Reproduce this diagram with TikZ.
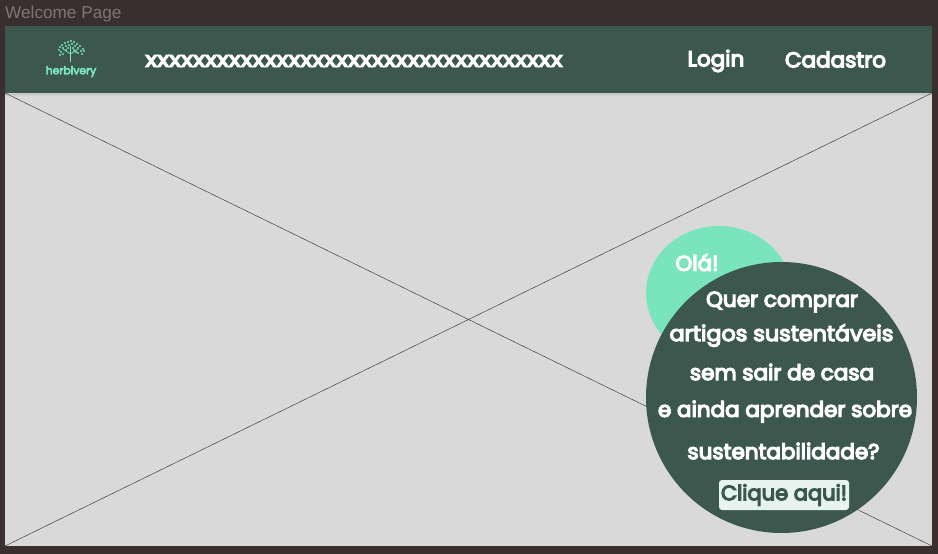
\documentclass[tikz,border=0pt]{standalone}
\usepackage{fontspec}
\setmainfont{Poppins}[RawFeature={embolden=5.5}]
\newfontfamily\labelfont{Liberation Sans}
\definecolor{frameback}{HTML}{3A2F2E}
\definecolor{headgreen}{HTML}{3C574D}
\definecolor{bodygrey}{HTML}{D9D9D9}
\definecolor{mintgreen}{HTML}{7AE4BC}
\definecolor{pagelabel}{HTML}{7D7675}
\definecolor{btnfill}{HTML}{E6F3EE}
\tikzset{
  headtext/.style={text=white, font=\fontsize{21.5pt}{24pt}\selectfont, inner sep=0pt},
  bubbletext/.style={text=white, font=\fontsize{21.5pt}{24pt}\selectfont, inner sep=0pt},
  leafdot/.style={fill=mintgreen, draw=none}
}
\begin{document}
\begin{tikzpicture}[x=1pt,y=-1pt]
\useasboundingbox (0,0) rectangle (938,554);
\fill[frameback] (0,0) rectangle (938,554);
\node[text=pagelabel, font=\labelfont\fontsize{17.2pt}{19pt}\selectfont, inner sep=0pt, anchor=west] (pagename) at (5,14.5) {Welcome Page};
% header and body
\filldraw [fill=bodygrey, draw=none] (5,93) rectangle (932,546);
\fill[black!22] (5,93) rectangle (932,94.5);
\fill[black!18] (5,94.5) rectangle (932,96);
\filldraw [fill=headgreen, draw=none] (5,26) rectangle (932,93);
\coordinate (tl) at (5,93);
\coordinate (tr) at (932,93);
\coordinate (bl) at (5,546);
\coordinate (br) at (932,546);
\draw[black!75, line width=0.5pt] (tl)--(br);
\draw[black!75, line width=0.5pt] (tr)--(bl);
% logo
\draw[mintgreen, line width=1.6pt] (70.5,62) -- (70.5,53);
\draw[mintgreen, line width=0.8pt] (70.5,54) -- (63,49);
\draw[mintgreen, line width=0.8pt] (70.5,54) -- (78,49);
\draw[mintgreen, line width=0.8pt] (70.5,54) -- (70.5,46);
\foreach \px/\py in {59/50,60/47,62/45,65/43,68/42,71/41,74/42,77/44,80/46,83/49,84/51,61/52,63/48,66/46,69/45,72/44,75/46,78/48,81/51,63/54,66/50,74/50,78/53,82/54,60/55,68/48,73/48,76/52}
  \fill[leafdot] (\px,\py) circle (1.2pt);
\node[text=mintgreen, font=\fontsize{10.8pt}{12pt}\selectfont, inner sep=0pt] (brand) at (71,71.5) {herbivery};
% header texts
\node[headtext, xscale=1.158] (search) at (354,61) {xxxxxxxxxxxxxxxxxxxxxxxxxxxxxxxxxxx};
\node[headtext] (login) at (716,61) {Login};
\node[headtext] (signup) at (835.5,59.5) {Cadastro};
% circles
\fill[mintgreen] (719,293) ellipse (73 and 67);
\fill[headgreen] (781.5,397.5) circle (135.5);
\node[bubbletext] (hello) at (697,262.5) {Olá!};
\node[bubbletext] (line1) at (782,302) {Quer comprar};
\node[bubbletext, xscale=1.035] (line2) at (781.5,335.5) {artigos sustentáveis};
\node[bubbletext] (line3) at (782,372) {sem sair de casa};
\node[bubbletext] (line4) at (785,411.5) {e ainda aprender sobre};
\node[bubbletext] (line5) at (783.5,451) {sustentabilidade?};
\node[draw=none, fill=btnfill, rounded corners=3pt, minimum width=130pt, minimum height=30pt, inner sep=0pt, text=headgreen, font=\fontsize{21pt}{24pt}\selectfont] (cta) at (784,495) {Clique aqui!};
\end{tikzpicture}
\end{document}
